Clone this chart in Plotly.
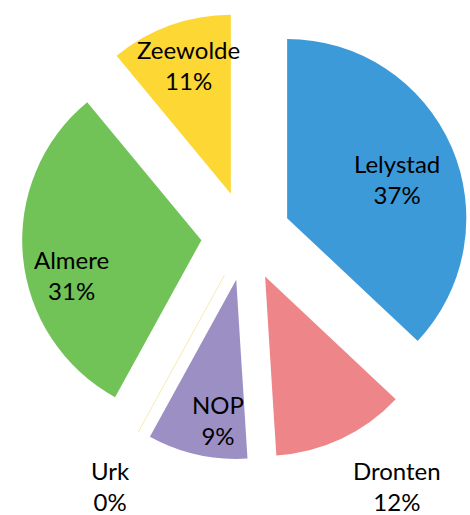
import math
import plotly.graph_objects as go

labels = ["Lelystad", "Dronten", "NOP", "Urk", "Almere", "Zeewolde"]
values = [37, 12, 9, 0, 31, 11]
pct_labels = ["37%", "12%", "9%", "0%", "31%", "11%"]
colors = ["#3D9AD9", "#EE8589", "#9B8FC4", "#F8EBB0", "#71C257", "#FDD734"]

W, H = 470, 515
PULL = 0.25
CX_PX, CY_PX, HALF = 246, 236, 224
dom_x = [(CX_PX - HALF) / W, (CX_PX + HALF) / W]
dom_y = [1 - (CY_PX + 230) / H, 1 - (CY_PX - 230) / H]

# label placement style: radial factor (x r from pulled slice apex) and angle tweak (deg)
label_rad = [0.651, 1.382, 0.790, 1.338, 0.748, 0.756]
label_dang = [3.8, -7.0, -5.2, -0.3, -9.7, 1.8]

fig = go.Figure(go.Pie(
    labels=labels, values=values, sort=False, direction="clockwise", rotation=0,
    pull=[PULL] * len(values), marker=dict(colors=colors, line=dict(width=0)),
    textinfo="none", hoverinfo="label+percent", showlegend=False,
    domain=dict(x=dom_x, y=dom_y),
))

# replicate plotly's pie geometry to place labels
bw = W * (dom_x[1] - dom_x[0])
bh = H * (dom_y[1] - dom_y[0])
r = min(bw, bh) / (2 + 2 * PULL)
cx = W * (dom_x[0] + dom_x[1]) / 2
cy = H * (2 - dom_y[0] - dom_y[1]) / 2
total = sum(values)
cum = 0.0
annotations = []
shapes = []
for i, v in enumerate(values):
    start = cum / total * 360
    mid = math.radians(start + v / total * 180)
    ax = cx + PULL * r * math.sin(mid)
    ay = cy - PULL * r * math.cos(mid)
    a = mid + math.radians(label_dang[i])
    px = ax + label_rad[i] * r * math.sin(a)
    py = ay - label_rad[i] * r * math.cos(a)
    annotations.append(dict(
        x=px / W, y=1 - py / H, xref="paper", yref="paper", showarrow=False,
        text=f"{labels[i]}<br>{pct_labels[i]}", xanchor="center", yanchor="middle",
        font=dict(family="Lato, sans-serif", size=24, color="#000000"),
    ))
    if v == 0:
        s = math.radians(start)
        shapes.append(dict(
            type="line", xref="paper", yref="paper",
            x0=ax / W, y0=1 - ay / H,
            x1=(ax + r * math.sin(s)) / W, y1=1 - (ay - r * math.cos(s)) / H,
            line=dict(color=colors[i], width=1),
        ))
    cum += v

fig.update_layout(
    width=W, height=H, margin=dict(l=0, r=0, t=0, b=0),
    paper_bgcolor="white", plot_bgcolor="white",
    annotations=annotations, shapes=shapes,
)
fig.write_html("out.html")
